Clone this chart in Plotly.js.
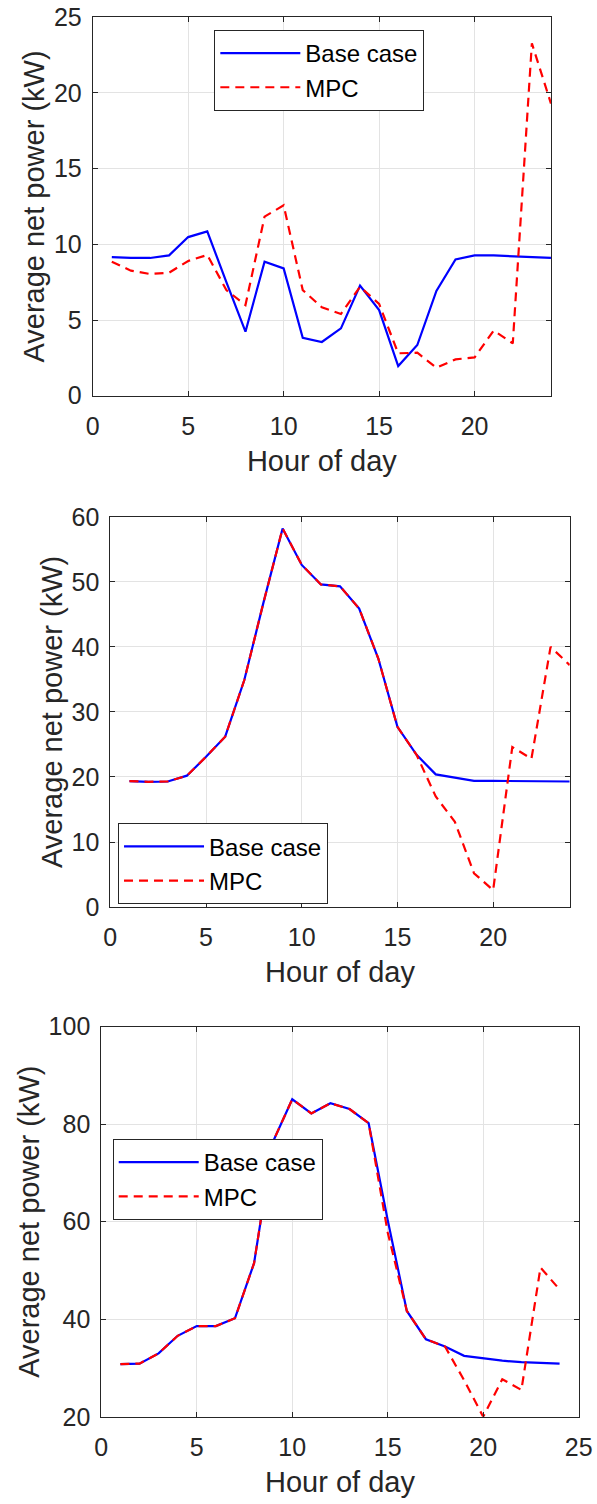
<!DOCTYPE html>
<html>
<head>
<meta charset="utf-8">
<script src="https://cdn.plot.ly/plotly-3.0.1.min.js"></script>
<style>html,body{margin:0;padding:0;background:#fff;}#plot{width:597px;height:1504px;}</style>
</head>
<body>
<div id="plot"></div>
<script>
// ---- data ----
const hours = [1,2,3,4,5,6,7,8,9,10,11,12,13,14,15,16,17,18,19,20,21,22,23,24];

const base1 = [9.16,9.1,9.1,9.27,10.48,10.86,7.5,4.23,8.85,8.41,3.83,3.55,4.45,7.27,5.66,1.96,3.35,6.92,9.0,9.27,9.27,9.2,9.18,9.1];
const mpc1  = [8.85,8.26,8.04,8.13,8.9,9.3,6.98,5.99,11.83,12.58,6.98,5.84,5.4,7.2,6.06,2.8,2.84,1.85,2.4,2.53,4.3,3.46,23.28,19.3];

const base2 = [19.36,19.26,19.3,20.2,23.1,26.2,34.9,46.8,58.2,52.6,49.6,49.3,45.9,38.2,27.7,23.4,20.4,19.9,19.4,19.4,19.4,19.4,19.4,19.3];
const mpc2  = [19.36,19.26,19.3,20.2,23.1,26.2,34.9,46.8,58.2,52.6,49.6,49.3,45.9,38.2,27.7,23.4,17.0,13.1,5.2,2.6,24.6,22.8,40.0,37.2];

const base3 = [30.8,30.9,33.0,36.6,38.6,38.6,40.2,51.5,76.5,85.1,82.2,84.3,83.1,80.2,60.3,41.7,35.9,34.4,32.5,32.0,31.5,31.2,31.1,30.9];
const mpc3  = [30.8,30.9,33.0,36.6,38.6,38.6,40.2,51.5,76.5,85.1,82.2,84.3,83.1,80.2,57.8,41.7,35.9,34.4,27.5,20.0,27.7,25.5,50.6,46.1];

const seriesNames = ["Base case", "MPC"];
const xTitle = "Hour of day";
const yTitle = "Average net power (kW)";

// ---- styling ----
const FONT = '"Liberation Sans", Arial, Helvetica, sans-serif';
const TXT = '#262626';

function tr(y, i, which) {
  const ax = i === 1 ? '' : String(i);
  const isBase = which === 0;
  return {
    x: hours, y: y, type: 'scatter', mode: 'lines',
    name: seriesNames[which],
    xaxis: 'x' + ax, yaxis: 'y' + ax,
    legend: i === 1 ? 'legend' : 'legend' + i,
    line: isBase ? {color: '#0000ff', width: 2.2} : {color: '#ff0000', width: 2.2, dash: '9px,6px'},
    hoverinfo: 'skip'
  };
}

const data = [
  tr(base1,1,0), tr(mpc1,1,1),
  tr(base2,2,0), tr(mpc2,2,1),
  tr(base3,3,0), tr(mpc3,3,1)
];

function xax(domain, range, anchor) {
  return {
    domain: domain, range: range, anchor: anchor,
    tickmode: 'linear', tick0: 0, dtick: 5,
    ticks: 'inside', ticklen: 5, tickcolor: TXT, mirror: 'ticks',
    showline: true, linecolor: TXT, linewidth: 1,
    showgrid: true, gridcolor: '#e3e3e3', gridwidth: 1, zeroline: false,
    tickfont: {family: FONT, size: 25, color: TXT},
    ticklabelstandoff: 8,
    title: {text: xTitle, font: {family: FONT, size: 29, color: TXT}, standoff: 11}
  };
}
function yax(domain, range, dtick, anchor) {
  return {
    domain: domain, range: range, anchor: anchor,
    tickmode: 'linear', tick0: 0, dtick: dtick,
    ticks: 'inside', ticklen: 5, tickcolor: TXT, mirror: 'ticks',
    showline: true, linecolor: TXT, linewidth: 1,
    showgrid: true, gridcolor: '#e3e3e3', gridwidth: 1, zeroline: false,
    tickfont: {family: FONT, size: 25, color: TXT},
    ticklabelstandoff: 5,
    title: {text: yTitle, font: {family: FONT, size: 29, color: TXT}, standoff: 0}
  };
}
function leg(x, y) {
  return {
    x: x, y: y, xanchor: 'left', yanchor: 'top',
    bgcolor: '#ffffff', bordercolor: TXT, borderwidth: 1,
    font: {family: FONT, size: 24, color: '#000'},
    itemwidth: 80, tracegroupgap: 0
  };
}

const layout = {
  width: 597, height: 1504,
  margin: {l: 0, r: 0, t: 0, b: 0},
  paper_bgcolor: '#ffffff', plot_bgcolor: '#ffffff',
  showlegend: true,
  xaxis:  xax([0.1553, 0.9229], [0, 24], 'y'),
  yaxis:  yax([0.7369, 0.9885], [0, 25], 5, 'x'),
  xaxis2: xax([0.1848, 0.9543], [0, 24], 'y2'),
  yaxis2: yax([0.3969, 0.6564], [0, 60], 10, 'x2'),
  xaxis3: xax([0.1697, 0.9693], [0, 25], 'y3'),
  yaxis3: yax([0.0580, 0.3174], [20, 100], 20, 'x3'),
  legend:  leg(0.359, 0.9801),
  legend2: leg(0.1977, 0.4526),
  legend3: leg(0.1888, 0.2427)
};

Plotly.newPlot('plot', data, layout, {displayModeBar: false, staticPlot: true});
</script>
</body>
</html>
